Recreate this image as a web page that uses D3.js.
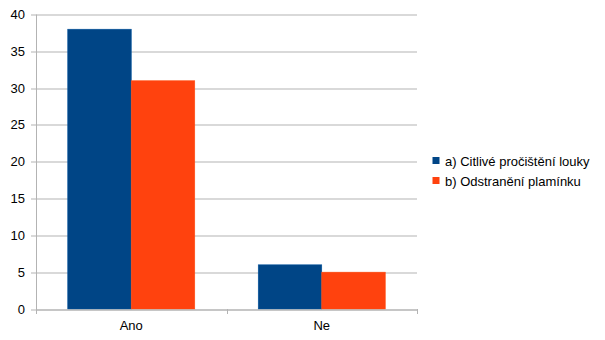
<!DOCTYPE html>
<html>
<head>
<meta charset="utf-8">
<script src="https://cdn.jsdelivr.net/npm/d3@7"></script>
<style>
  body { margin: 0; background: #fff; }
  text { font-family: "Liberation Sans", Arial, sans-serif; font-size: 13px; fill: #000; }
</style>
</head>
<body>
<svg id="chart" width="605" height="340"></svg>
<script>
let categories = ["Ano", "Ne"];
let seriesNames = ["a) Citlivé pročištění louky", "b) Odstranění plamínku"];
let seriesA = [38, 6];
let seriesB = [31, 5];
let yTicks = [0, 5, 10, 15, 20, 25, 30, 35, 40];
let colors = ["#004586", "#ff420e"];

let svg = d3.select("#chart");
let margin = { left: 36, right: 188, top: 14.5, bottom: 31 };
let width = 605 - margin.left - margin.right;
let height = 340 - margin.top - margin.bottom;

let g = svg.append("g").attr("transform", `translate(${margin.left},${margin.top})`);

let x = d3.scaleBand().domain(categories).range([0, width]);
let xInner = d3.scaleBand().domain([0, 1]).range([0, x.bandwidth()]).paddingInner(0).paddingOuter(0.5);
let y = d3.scaleLinear().domain([0, 40]).range([height, 0]);

// grid
g.selectAll(".grid")
  .data(yTicks)
  .enter()
  .append("line")
  .attr("x1", -5)
  .attr("x2", width)
  .attr("y1", d => Math.round(y(d)) + 0.5)
  .attr("y2", d => Math.round(y(d)) + 0.5)
  .attr("stroke", "#b3b3b3");

g.selectAll(".ylab")
  .data(yTicks)
  .enter()
  .append("text")
  .attr("x", -11)
  .attr("y", d => y(d))
  .attr("dy", "0.35em")
  .attr("text-anchor", "end")
  .text(d => d);

// bars
let rows = categories.map((c, i) => ({ cat: c, vals: [seriesA[i], seriesB[i]] }));
let groups = g.selectAll(".cat")
  .data(rows)
  .enter()
  .append("g")
  .attr("transform", d => `translate(${x(d.cat)},0)`);

groups.selectAll("rect")
  .data(d => d.vals.map((v, j) => ({ v, j })))
  .enter()
  .append("rect")
  .attr("x", d => xInner(d.j))
  .attr("width", xInner.bandwidth())
  .attr("y", d => y(d.v))
  .attr("height", d => height - y(d.v))
  .attr("fill", d => colors[d.j])
  .attr("stroke", d => d3.color(colors[d.j]).brighter(0.4))
  .attr("stroke-width", 0.6);

// axes lines
g.append("line")
  .attr("x1", 0.5).attr("x2", 0.5)
  .attr("y1", 0).attr("y2", height + 5)
  .attr("stroke", "#b3b3b3");
g.append("line")
  .attr("x1", 0).attr("x2", width)
  .attr("y1", Math.round(height) + 0.5).attr("y2", Math.round(height) + 0.5)
  .attr("stroke", "#b3b3b3");

let sepTicks = [0, width / 2, width];
g.selectAll(".xt")
  .data(sepTicks)
  .enter()
  .append("line")
  .attr("x1", d => Math.round(d) + 0.5)
  .attr("x2", d => Math.round(d) + 0.5)
  .attr("y1", height)
  .attr("y2", height + 5)
  .attr("stroke", "#b3b3b3");

g.selectAll(".xlab")
  .data(categories)
  .enter()
  .append("text")
  .attr("x", d => x(d) + x.bandwidth() / 2)
  .attr("y", height + 21)
  .attr("text-anchor", "middle")
  .text(d => d);

// legend
let legend = svg.append("g").attr("transform", "translate(432.5,157)");
let items = legend.selectAll("g")
  .data(seriesNames)
  .enter()
  .append("g")
  .attr("transform", (d, i) => `translate(0,${i * 20})`);
items.append("rect")
  .attr("width", 7)
  .attr("height", 7)
  .attr("fill", (d, i) => colors[i]);
items.append("text")
  .attr("x", 12.5)
  .attr("y", 4)
  .attr("dy", "0.35em")
  .text(d => d);
</script>
</body>
</html>
